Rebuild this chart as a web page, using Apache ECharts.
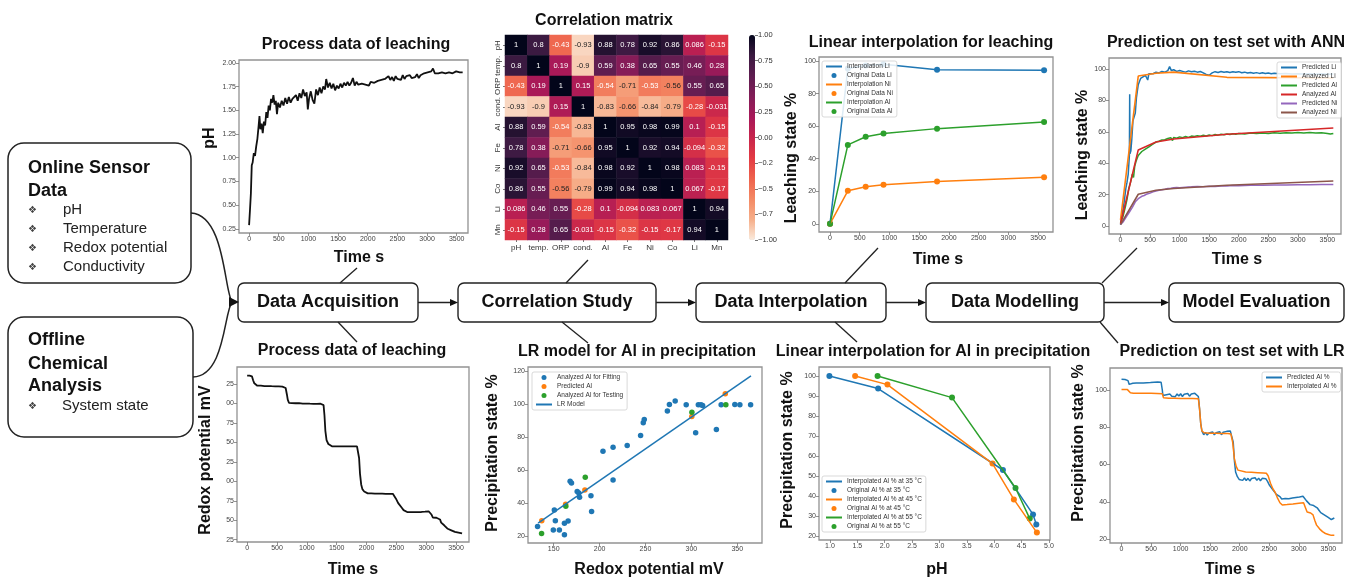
<!DOCTYPE html>
<html><head><meta charset="utf-8">
<script src="https://cdn.jsdelivr.net/npm/echarts@6/dist/echarts.min.js"></script>
<style>html,body{margin:0;padding:0;background:#fff}#c{width:1347px;height:577px}</style>
</head><body><div id="c"></div>
<script>
// ---------------- DATA ----------------
const phData = [[0,0.29],[15,0.45],[30,0.62],[45,0.92],[60,0.95],[80,1.05],[100,1.02],[120,1.12],[140,1.2],[160,1.33],[175,1.44],[190,1.3],[210,1.36],[230,1.26],[250,1.38],[270,1.34],[290,1.48],[310,1.42],[330,1.55],[350,1.5],[370,1.62],[390,1.58],[410,1.66],[430,1.56],[450,1.6],[470,1.46],[490,1.58],[520,1.53],[550,1.6],[580,1.55],[610,1.63],[640,1.57],[670,1.64],[700,1.58],[730,1.62],[760,1.6],[790,1.66],[820,1.6],[850,1.68],[880,1.63],[910,1.72],[940,1.65],[970,1.69],[990,1.51],[1010,1.62],[1040,1.7],[1070,1.61],[1100,1.57],[1130,1.72],[1160,1.66],[1190,1.74],[1220,1.68],[1250,1.75],[1280,1.72],[1300,1.83],[1330,1.74],[1360,1.79],[1390,1.73],[1420,1.78],[1450,1.71],[1480,1.76],[1510,1.73],[1540,1.78],[1570,1.74],[1600,1.79],[1630,1.76],[1660,1.8],[1690,1.76],[1720,1.79],[1750,1.84],[1780,1.76],[1810,1.8],[1840,1.77],[1870,1.79],[1900,1.78],[1930,1.8],[1960,1.77],[1990,1.79],[2020,1.76],[2050,1.8],[2080,1.78],[2110,1.79],[2140,1.77],[2170,1.81],[2200,1.79],[2230,1.82],[2260,1.8],[2290,1.83],[2320,1.81],[2350,1.86],[2380,1.82],[2410,1.85],[2440,1.81],[2470,1.86],[2500,1.83],[2530,1.85],[2560,1.82],[2590,1.87],[2620,1.83],[2650,1.86],[2680,1.84],[2710,1.87],[2740,1.84],[2770,1.86],[2800,1.85],[2830,1.88],[2860,1.84],[2890,1.87],[2920,1.86],[2950,1.89],[2980,1.87],[3010,1.9],[3040,1.88],[3070,1.91],[3100,1.94],[3130,1.89],[3160,1.91],[3190,1.89],[3220,1.91],[3250,1.9],[3280,1.92],[3310,1.89],[3340,1.91],[3370,1.9],[3400,1.91],[3430,1.89],[3460,1.9],[3490,1.91],[3520,1.89],[3550,1.9],[3580,1.89],[3600,1.9]];

const corrLabels = ['pH','temp.','ORP','cond.','Al','Fe','Ni','Co','Li','Mn'];
const corrMatrix = [
  [1,0.8,-0.43,-0.93,0.88,0.78,0.92,0.86,0.086,-0.15],
  [0.8,1,0.19,-0.9,0.59,0.38,0.65,0.55,0.46,0.28],
  [-0.43,0.19,1,0.15,-0.54,-0.71,-0.53,-0.56,0.55,0.65],
  [-0.93,-0.9,0.15,1,-0.83,-0.66,-0.84,-0.79,-0.28,-0.031],
  [0.88,0.59,-0.54,-0.83,1,0.95,0.98,0.99,0.1,-0.15],
  [0.78,0.38,-0.71,-0.66,0.95,1,0.92,0.94,-0.094,-0.32],
  [0.92,0.65,-0.53,-0.84,0.98,0.92,1,0.98,0.083,-0.15],
  [0.86,0.55,-0.56,-0.79,0.99,0.94,0.98,1,0.067,-0.17],
  [0.086,0.46,0.55,-0.28,0.1,-0.094,0.083,0.067,1,0.94],
  [-0.15,0.28,0.65,-0.031,-0.15,-0.32,-0.15,-0.17,0.94,1]
];
const cbTicks = [1,0.75,0.5,0.25,0,-0.25,-0.5,-0.75,-1];
const cbLabels = ['1.00','0.75','0.50','0.25','0.00','\u22120.2','\u22120.5','\u22120.7','\u22121.00'];

const leachTime = [0,300,600,900,1800,3600];
const leachLi = [0,95.5,97.3,98,94.7,94.3];
const leachNi = [0,20.3,22.8,24,26,28.7];
const leachAl = [0,48.5,53.5,55.5,58.5,62.5];

const annLiAnalyzed = [4,95.5,97.3,98,94.7,94.3];
const annAlAnalyzed = [1.5,48.5,53.5,55.5,58.5,62.5];
const annNiAnalyzed = [1,20.3,22.8,24,26,28.7];
const annLiPred = [[0,1],[30,8],[60,15],[90,24],[110,28],[130,33],[150,45],[155,84],[160,46],[175,48],[190,55],[210,67],[230,66],[250,72],[270,82],[285,86],[300,90],[320,92],[340,94],[360,93],[380,95],[400,94],[420,96],[440,95],[460,93],[480,97],[500,96],[550,97],[600,98],[650,97.5],[700,98.5],[750,98],[800,99],[830,101.5],[860,99],[900,99.5],[950,98.5],[1000,99],[1050,98.5],[1100,98],[1150,98.8],[1200,98.2],[1250,98.6],[1300,98],[1350,98.4],[1400,97.5],[1450,96.5],[1500,96],[1550,97.5],[1600,98.3],[1650,97.8],[1700,98.4],[1750,97.9],[1800,98.3],[1850,97.8],[1900,98.2],[1950,97.9],[2000,98.3],[2050,97.6],[2100,98],[2150,97.4],[2200,97.8],[2250,97.3],[2300,97.7],[2350,97.2],[2400,97.6],[2450,97.1],[2500,97.5],[2550,97],[2600,97.3],[2700,97],[2800,97.2],[2900,96.8],[3000,97],[3100,96.8],[3200,97],[3300,96.7],[3400,96.9],[3500,96.6],[3600,96.8]];
const annAlPred = [[0,2],[40,6],[80,12],[110,17],[140,24],[170,28],[200,33],[220,31],[240,38],[260,41],[280,43],[300,45],[330,46],[360,47.5],[390,47],[420,49],[450,50],[480,50.5],[510,51.5],[540,52],[570,53],[600,53.5],[650,54],[700,54.8],[750,55],[800,55.8],[850,56.3],[880,54.5],[900,56.5],[950,56],[1000,56.8],[1050,56.3],[1100,57],[1150,56.5],[1200,57.3],[1250,57],[1300,57.6],[1350,57.2],[1400,57.8],[1450,57.4],[1500,58],[1550,57.6],[1600,58.3],[1650,57.9],[1700,58.5],[1750,58.1],[1800,58.6],[1850,58.3],[1900,58.8],[1950,58.5],[2000,59],[2100,58.7],[2200,59.2],[2300,58.9],[2400,59.3],[2500,59],[2600,59.4],[2700,59.1],[2800,59.5],[2900,59.2],[3000,59.6],[3100,59.3],[3200,59.6],[3300,59.2],[3400,59.5],[3500,59],[3550,58.6],[3600,59]];
const annNiPred = [[0,1],[50,3],[100,6],[150,9],[200,12],[250,15.5],[300,17.5],[330,18],[360,19],[400,19.5],[450,20.5],[500,21],[550,21.8],[600,22.3],[650,22.8],[700,23.2],[750,23.5],[800,23.9],[850,24.1],[900,24.4],[950,24.6],[1000,24.5],[1100,24.8],[1200,25],[1300,25.3],[1400,25.1],[1500,25.4],[1600,25.3],[1700,25.6],[1800,25.5],[1900,25.8],[2000,25.7],[2200,26],[2400,26],[2600,26.2],[2800,26.2],[3000,26.4],[3200,26.3],[3400,26.5],[3600,26.5]];

const redoxData = [[0,336],[20,337],[40,336],[60,337],[80,335],[100,330],[120,326],[140,324],[170,323],[200,322.5],[230,323],[260,322],[290,322.5],[320,322],[350,322.5],[380,322],[410,322.3],[440,321.8],[470,322.2],[500,321.7],[530,322],[560,321.5],[590,321.8],[620,321.3],[645,320],[665,312],[680,305],[700,301],[720,300],[750,300.5],[780,300],[810,300.4],[840,300],[870,300.5],[900,300.2],[930,300],[960,300.4],[990,300],[1020,300.3],[1050,299.8],[1080,300.2],[1110,299.7],[1140,300],[1170,299.5],[1200,300],[1230,299.8],[1260,299.5],[1280,298],[1295,285],[1310,265],[1330,253],[1360,248],[1390,246],[1420,245],[1450,245.5],[1480,245],[1510,245.3],[1540,245],[1570,245.4],[1600,245],[1630,245.3],[1660,245],[1690,245.4],[1720,245],[1750,245.3],[1780,245],[1810,245.2],[1840,245],[1860,243],[1875,230],[1890,210],[1910,196],[1930,190],[1960,187],[1990,185],[2020,184.5],[2050,184],[2080,184.5],[2110,184],[2140,184.3],[2170,184],[2200,184.2],[2230,183.8],[2260,184.2],[2290,183.8],[2320,184],[2350,183.7],[2380,184],[2410,183.6],[2440,184],[2470,183],[2490,178],[2510,176],[2530,172],[2560,170],[2590,166],[2620,163],[2650,161],[2680,160.5],[2710,160],[2740,160.5],[2770,160],[2800,160.3],[2830,160],[2860,160.4],[2890,160.2],[2920,160.6],[2950,160.4],[2980,161],[3010,161.3],[3040,161.5],[3070,161],[3090,157],[3110,153.5],[3140,153],[3170,153.2],[3200,152.5],[3230,151],[3250,147],[3270,145],[3300,143.5],[3330,141],[3360,139],[3390,138],[3420,137],[3450,136],[3480,135],[3510,134.5],[3540,134],[3570,133.5],[3600,133]];
const redoxTicks = [125,150,175,200,225,250,275,300,325];

const fitX = [132.4,150.7,151.8,149.6,156.2,161.7,165.7,161.7,167.9,169.4,175.6,178.2,177.4,190.6,191.3,203.7,214.7,214.7,230.1,244.7,247.6,248.7,273.9,276.1,282.4,294.4,304.7,307.6,310.5,312.3,327.3,332.5,347.4,352.9,364.6];
const fitY = [25.9,36,29.5,23.8,23.8,27.9,29.3,21,53.3,52.3,47.1,43.6,46.3,44.6,35,71.5,73.9,54.1,75,81,88.7,90.7,95.8,99.8,101.8,99.6,82.6,99.6,99.6,99.2,84.6,99.6,99.8,99.6,99.6];
const predX = [137,163,184,300.5,337];
const predY = [29.5,39.5,48,92.5,106.3];
const testX = [136.8,163.2,184.4,300.6,337.6];
const testY = [21.8,38.2,55.8,95,99.6];
const lrLineX = [133,365];
const lrLineY = [28,117];

const ph35 = [0.99,1.88,4.16,4.71,4.77], al35 = [100,93.7,53,30.8,25.8];
const ph45 = [1.46,2.05,3.97,4.36,4.78], al45 = [100,95.7,56.2,38.3,21.7];
const ph55 = [1.87,3.23,4.39,4.65],      al55 = [100,89.2,44,28.7];

const lrPred = [[0,105.8],[30,106.3],[60,105.6],[90,106.5],[110,105],[130,103],[160,102.8],[190,103.6],[220,103],[250,103.8],[280,103.2],[310,103.7],[340,103],[370,103.8],[400,103.3],[430,103.9],[460,103.4],[490,104],[520,103.5],[550,104.2],[580,103.7],[610,104.3],[640,103.9],[670,104.1],[690,100],[700,97],[730,96.3],[760,97.5],[790,96.5],[820,97.8],[850,96.6],[880,97.6],[910,96.4],[940,97.9],[970,96.8],[1000,98],[1030,96.5],[1060,97.7],[1090,96.9],[1120,98.1],[1150,96.7],[1180,97.8],[1210,97],[1240,98.2],[1270,97.3],[1300,96.5],[1320,90],[1340,82],[1360,78],[1390,76],[1420,77.2],[1450,75.8],[1480,77],[1510,76.2],[1540,77.5],[1570,75.9],[1600,77.1],[1630,76.3],[1660,77.6],[1690,76],[1720,77.3],[1750,76.5],[1780,77.8],[1810,76.8],[1840,78],[1870,78.5],[1890,72],[1910,62],[1930,56],[1960,53.5],[1990,52],[2020,53],[2050,51.5],[2080,52.8],[2110,51.4],[2140,52.6],[2170,51.2],[2200,52.5],[2230,51.6],[2260,52.9],[2290,51.5],[2320,52.7],[2350,51.3],[2380,52.6],[2410,51.8],[2440,52.4],[2470,51],[2500,49],[2530,48],[2560,46.5],[2590,45.5],[2620,44],[2650,43.5],[2680,42.8],[2710,41.5],[2740,40.5],[2770,41.8],[2800,40.9],[2830,41.6],[2860,41],[2890,42],[2920,41.4],[2950,42.3],[2980,41.7],[3010,42.6],[3040,42],[3070,43],[3100,42.5],[3130,40.5],[3160,39.5],[3190,38.5],[3220,38.8],[3250,38],[3280,37.5],[3310,36.8],[3340,35.5],[3370,34.2],[3400,33.5],[3430,33],[3460,32.2],[3490,31.8],[3520,31],[3550,30.5],[3580,30.8],[3600,31.3]];
const lrInterp = [[0,100.3],[100,100.2],[150,98.5],[200,98.3],[300,98.3],[400,98.2],[500,98.2],[600,98.1],[690,98],[710,95.8],[800,95.6],[900,95.6],[1000,95.5],[1100,95.5],[1200,95.4],[1300,95.3],[1320,90],[1340,82],[1360,78],[1400,77],[1500,76.8],[1600,76.8],[1700,76.7],[1800,76.6],[1850,76.4],[1880,72],[1910,63],[1940,59],[1970,57],[2000,56.5],[2100,56],[2200,55.8],[2300,55.6],[2400,55.4],[2450,55.3],[2480,54],[2520,50],[2560,47],[2600,45],[2640,42],[2680,39.5],[2720,38.3],[2800,38.5],[2900,38.8],[3000,39.2],[3080,39.5],[3110,37],[3140,34.5],[3200,34],[3240,33],[3270,30],[3300,27.5],[3350,25.5],[3400,24],[3450,23],[3500,22.5],[3550,22],[3600,22]];

const timeTicks = [0,500,1000,1500,2000,2500,3000,3500];

// ---------------- HELPERS ----------------
const FONT = "'Liberation Sans', Arial, sans-serif";
const C = {blue:'#1f77b4', orange:'#ff7f0e', green:'#2ca02c', red:'#d62728', purple:'#9467bd', brown:'#8c564b'};
const zip = (xs, ys) => xs.map((x, i) => [x, ys[i]]);
function grid(l, t, w, h) { return {left:l, top:t, width:w, height:h, show:true, borderColor:'#929292', borderWidth:1.3, backgroundColor:'#fff'}; }
function vAxis(gi, min, max, ticks, fmt, extra) {
  return Object.assign({type:'value', gridIndex:gi, min:min, max:max, scale:true,
    axisLine:{show:false, onZero:false}, splitLine:{show:false},
    axisTick:{show:true, length:3, lineStyle:{color:'#777', width:0.8}, customValues:ticks},
    axisLabel:{fontSize:7, color:'#444', fontFamily:FONT, margin:3, customValues:ticks, formatter:fmt}}, extra || {});
}
const intFmt = v => String(v);
function lineS(name, gi, data, color, width, extra) {
  return Object.assign({type:'line', name:name, xAxisIndex:gi, yAxisIndex:gi, data:data, symbol:'none', showSymbol:false,
    lineStyle:{color:color, width:width}, itemStyle:{color:color}, silent:true, animation:false}, extra || {});
}
function dotS(name, gi, data, color, size) {
  return {type:'scatter', name:name, xAxisIndex:gi, yAxisIndex:gi, data:data, symbol:'circle', symbolSize:size,
    itemStyle:{color:color, opacity:1}, silent:true, animation:false};
}
// legend entries: [name, isLine]
function legend(items, left, top, gap) {
  return {data:items.map(it => it[1] ? {name:it[0], itemStyle:{opacity:0}} : {name:it[0]}),
    left:left, top:top, orient:'vertical', itemWidth:16, itemHeight:5, itemGap:gap,
    selectedMode:false, textStyle:{fontSize:6.5, color:'#333', fontFamily:FONT},
    backgroundColor:'rgba(255,255,255,0.85)', borderColor:'#cfcfcf', borderWidth:0.8, borderRadius:2, padding:[2,4,2,3]};
}

const heatData = [];
corrMatrix.forEach((row, r) => row.forEach((v, c) => {
  heatData.push({value:[c, r, v], label:{color: v < -0.555 ? '#222' : '#fff'}});
}));

// ---------------- GRAPHIC ----------------
const G = [];
function txt(x, y, s, font, opts) {
  G.push(Object.assign({type:'text', x:x, y:y, silent:true, z:50,
    style:{text:s, font:font, fill:'#111', align:'center', verticalAlign:'middle'}}, opts || {}));
}
const TB = "bold 16px " + FONT;
txt(356, 45, 'Process data of leaching', TB);
txt(604, 21, 'Correlation matrix', TB);
txt(931, 43, 'Linear interpolation for leaching', TB);
txt(1226, 43, 'Prediction on test set with ANN', TB);
txt(352, 351, 'Process data of leaching', TB);
txt(637, 352, 'LR model for Al in precipitation', TB);
txt(933, 352, 'Linear interpolation for Al in precipitation', TB);
txt(1232, 352, 'Prediction on test set with LR', TB);
txt(359, 258, 'Time s', TB);
txt(938, 260, 'Time s', TB);
txt(1237, 260, 'Time s', TB);
txt(353, 570, 'Time s', TB);
txt(649, 570, 'Redox potential mV', TB);
txt(937, 570, 'pH', TB);
txt(1230, 570, 'Time s', TB);
const R90 = {rotation: Math.PI / 2};
txt(210, 138, 'pH', TB, R90);
txt(792, 158, 'Leaching state %', TB, R90);
txt(1083, 155, 'Leaching state %', TB, R90);
txt(206, 460, 'Redox potential mV', TB, R90);
txt(493, 453, 'Precipitation state %', TB, R90);
txt(788, 450, 'Precipitation state %', TB, R90);
txt(1079, 443, 'Precipitation state %', TB, R90);

const boxes = [[238,418,'Data Acquisition'],[458,656,'Correlation Study'],[696,886,'Data Interpolation'],[926,1104,'Data Modelling'],[1169,1344,'Model Evaluation']];
boxes.forEach(b => {
  G.push({type:'rect', silent:true, z:40, shape:{x:b[0], y:283, width:b[1]-b[0], height:39, r:6}, style:{fill:'#fff', stroke:'#222', lineWidth:1.4}});
  txt((b[0]+b[1])/2, 302.5, b[2], "bold 18px " + FONT);
});
function arrow(x1, x2, y) {
  G.push({type:'line', silent:true, z:40, shape:{x1:x1, y1:y, x2:x2-5, y2:y}, style:{stroke:'#222', lineWidth:1.4}});
  G.push({type:'polygon', silent:true, z:40, shape:{points:[[x2,y],[x2-8,y-3.5],[x2-8,y+3.5]]}, style:{fill:'#111'}});
}
arrow(418, 458, 302.5); arrow(656, 696, 302.5); arrow(886, 926, 302.5); arrow(1104, 1169, 302.5);
function seg(x1, y1, x2, y2) { G.push({type:'line', silent:true, z:40, shape:{x1:x1,y1:y1,x2:x2,y2:y2}, style:{stroke:'#222', lineWidth:1.3}}); }
seg(340,283,357,268); seg(338,322,357,342);
seg(566,283,588,260); seg(562,322,588,343);
seg(845,283,878,248); seg(835,322,857,342);
seg(1102,283,1137,248); seg(1100,322,1118,343);

G.push({type:'rect', silent:true, z:40, shape:{x:8, y:143, width:183, height:140, r:16}, style:{fill:'#fff', stroke:'#222', lineWidth:1.5}});
G.push({type:'rect', silent:true, z:40, shape:{x:8, y:317, width:185, height:120, r:16}, style:{fill:'#fff', stroke:'#222', lineWidth:1.5}});
const LB = "bold 18px " + FONT, LR = "15px " + FONT, BUL = "10px 'DejaVu Sans'";
function ltxt(x, y, s, font, fill) {
  G.push({type:'text', x:x, y:y, silent:true, z:50, style:{text:s, font:font, fill:fill || '#111', align:'left', verticalAlign:'middle'}});
}
ltxt(28, 168, 'Online Sensor', LB); ltxt(28, 191, 'Data', LB);
[['pH',210],['Temperature',229],['Redox potential',248],['Conductivity',267]].forEach(p => { ltxt(28, p[1], '\u2756', BUL, '#444'); ltxt(63, p[1], p[0], LR, '#222'); });
ltxt(28, 340, 'Offline', LB); ltxt(28, 364, 'Chemical', LB); ltxt(28, 386, 'Analysis', LB);
ltxt(28, 406, '\u2756', BUL, '#444'); ltxt(62, 406, 'System state', LR, '#222');
G.push({type:'bezierCurve', silent:true, z:40, shape:{x1:191,y1:213,cpx1:225,cpy1:215,cpx2:224,cpy2:290,x2:232,y2:302}, style:{stroke:'#222', lineWidth:1.5, fill:'none'}});
G.push({type:'bezierCurve', silent:true, z:40, shape:{x1:193,y1:377,cpx1:225,cpy1:376,cpx2:224,cpy2:312,x2:232,y2:302}, style:{stroke:'#222', lineWidth:1.5, fill:'none'}});
G.push({type:'polygon', silent:true, z:41, shape:{points:[[239,302],[229,297],[229,307]]}, style:{fill:'#111'}});

// ---------------- OPTION ----------------
const chart = echarts.init(document.getElementById('c'), null, {renderer:'canvas'});
const option = {
  animation:false,
  backgroundColor:'#fff',
  textStyle:{fontFamily:FONT},
  grid:[
    grid(239, 60, 229, 173),
    grid(819, 57, 234, 175),
    grid(1109, 58, 232, 176),
    grid(237, 367, 232, 175),
    grid(528, 367, 234, 176),
    grid(819, 367, 231, 173),
    grid(1110, 368, 232, 175),
    {left:505, top:35, width:223, height:205, show:false},
    {left:749, top:35, width:6, height:205, show:false}
  ],
  xAxis:[
    vAxis(0, -170, 3690, timeTicks, intFmt),
    vAxis(1, -185, 3750, timeTicks, intFmt),
    vAxis(2, -195, 3730, timeTicks, intFmt),
    vAxis(3, -170, 3716, timeTicks, intFmt),
    vAxis(4, 122, 377, [150,200,250,300,350], intFmt),
    vAxis(5, 0.8, 5.02, [1,1.5,2,2.5,3,3.5,4,4.5,5], v => v.toFixed(1)),
    vAxis(6, -195, 3730, timeTicks, intFmt),
    {type:'category', gridIndex:7, data:corrLabels, axisLine:{show:false}, splitArea:{show:false}, splitLine:{show:false},
      axisTick:{show:true, length:2, alignWithLabel:true, lineStyle:{color:'#555', width:0.8}},
      axisLabel:{fontSize:8, color:'#333', margin:4, interval:0, fontFamily:FONT}},
    {type:'value', gridIndex:8, show:false, min:0, max:1}
  ],
  yAxis:[
    vAxis(0, 0.207, 2.03, [0.25,0.5,0.75,1,1.25,1.5,1.75,2], v => v.toFixed(2)),
    vAxis(1, -5, 102.5, [0,20,40,60,80,100], intFmt),
    vAxis(2, -5, 107, [0,20,40,60,80,100], intFmt),
    vAxis(3, 122, 347, redoxTicks, v => String(v).slice(1)),
    vAxis(4, 16, 122.4, [20,40,60,80,100,120], intFmt),
    vAxis(5, 18, 104.5, [20,30,40,50,60,70,80,90,100], intFmt),
    vAxis(6, 17.9, 111.8, [20,40,60,80,100], intFmt),
    {type:'category', gridIndex:7, data:corrLabels, inverse:true, axisLine:{show:false}, splitArea:{show:false}, splitLine:{show:false},
      axisTick:{show:true, length:2, alignWithLabel:true, lineStyle:{color:'#555', width:0.8}},
      axisLabel:{fontSize:8, color:'#333', margin:3, rotate:90, interval:0, fontFamily:FONT}},
    {type:'value', gridIndex:8, position:'right', min:-1, max:1, axisLine:{show:false, onZero:false}, splitLine:{show:false},
      axisTick:{show:true, length:3, lineStyle:{color:'#555', width:0.8}, customValues:cbTicks},
      axisLabel:{fontSize:7.5, color:'#333', margin:3, fontFamily:FONT, customValues:cbTicks, formatter: v => cbLabels[cbTicks.indexOf(v)]}}
  ],
  visualMap:{type:'continuous', min:-1, max:1, seriesIndex:26, left:749, top:35, itemWidth:6, itemHeight:205,
    calculable:false, padding:0, orient:'vertical', hoverLink:false,
    inRange:{color:['#FAEBDD','#F6AE89','#F48964','#EE624D','#E33A43','#C7254D','#A71859','#821D58','#5E1D50','#3B1A41','#03051A']}},
  legend:[
    legend([['Interpolation Li',1],['Original Data Li',0],['Interpolation Ni',1],['Original Data Ni',0],['Interpolation Al',1],['Original Data Al',0]], 822, 61, 2),
    legend([['Predicted Li',1],['Analyzed Li',1],['Predicted Al',1],['Analyzed Al',1],['Predicted Ni',1],['Analyzed Ni',1]], 1277, 62, 2),
    legend([['Analyzed Al for Fitting',0],['Predicted Al ',0],['Analyzed Al for Testing',0],['LR Model',1]], 532, 372, 2),
    legend([['Interpolated Al % at 35 \u00B0C',1],['Original Al % at 35 \u00B0C',0],['Interpolated Al % at 45 \u00B0C',1],['Original Al % at 45 \u00B0C',0],['Interpolated Al % at 55 \u00B0C',1],['Original Al % at 55 \u00B0C',0]], 822, 476, 2),
    legend([['Predicted Al %',1],['Interpolated Al %',1]], 1262, 372, 2)
  ],
  series:[
    lineS('pH', 0, phData, '#111', 1.8),
    lineS('Interpolation Li', 1, zip(leachTime, leachLi), C.blue, 1.5),
    dotS('Original Data Li', 1, zip(leachTime, leachLi), C.blue, 6),
    lineS('Interpolation Ni', 1, zip(leachTime, leachNi), C.orange, 1.5),
    dotS('Original Data Ni', 1, zip(leachTime, leachNi), C.orange, 6),
    lineS('Interpolation Al', 1, zip(leachTime, leachAl), C.green, 1.5),
    dotS('Original Data Al', 1, zip(leachTime, leachAl), C.green, 6),
    lineS('Predicted Li', 2, annLiPred, C.blue, 1.5),
    lineS('Analyzed Li', 2, zip(leachTime, annLiAnalyzed), C.orange, 1.6),
    lineS('Predicted Al', 2, annAlPred, C.green, 1.5),
    lineS('Analyzed Al', 2, zip(leachTime, annAlAnalyzed), C.red, 1.6),
    lineS('Predicted Ni', 2, annNiPred, C.purple, 1.5),
    lineS('Analyzed Ni', 2, zip(leachTime, annNiAnalyzed), C.brown, 1.6),
    lineS('Redox potential', 3, redoxData, '#111', 1.8),
    dotS('Analyzed Al for Fitting', 4, zip(fitX, fitY), C.blue, 5.5),
    dotS('Predicted Al ', 4, zip(predX, predY), C.orange, 5.5),
    dotS('Analyzed Al for Testing', 4, zip(testX, testY), C.green, 5.5),
    lineS('LR Model', 4, zip(lrLineX, lrLineY), C.blue, 1.5),
    lineS('Interpolated Al % at 35 \u00B0C', 5, zip(ph35, al35), C.blue, 1.5),
    dotS('Original Al % at 35 \u00B0C', 5, zip(ph35, al35), C.blue, 6),
    lineS('Interpolated Al % at 45 \u00B0C', 5, zip(ph45, al45), C.orange, 1.5),
    dotS('Original Al % at 45 \u00B0C', 5, zip(ph45, al45), C.orange, 6),
    lineS('Interpolated Al % at 55 \u00B0C', 5, zip(ph55, al55), C.green, 1.5),
    dotS('Original Al % at 55 \u00B0C', 5, zip(ph55, al55), C.green, 6),
    lineS('Predicted Al %', 6, lrPred, C.blue, 1.5),
    lineS('Interpolated Al %', 6, lrInterp, C.orange, 1.5),
    {type:'heatmap', name:'Correlation', xAxisIndex:7, yAxisIndex:7, data:heatData, silent:true, animation:false,
      label:{show:true, fontSize:7.5, fontFamily:FONT, formatter: p => String(p.value[2])},
      itemStyle:{borderWidth:0}, emphasis:{disabled:true}}
  ],
  graphic:{elements:G}
};
chart.setOption(option);
</script></body></html>
